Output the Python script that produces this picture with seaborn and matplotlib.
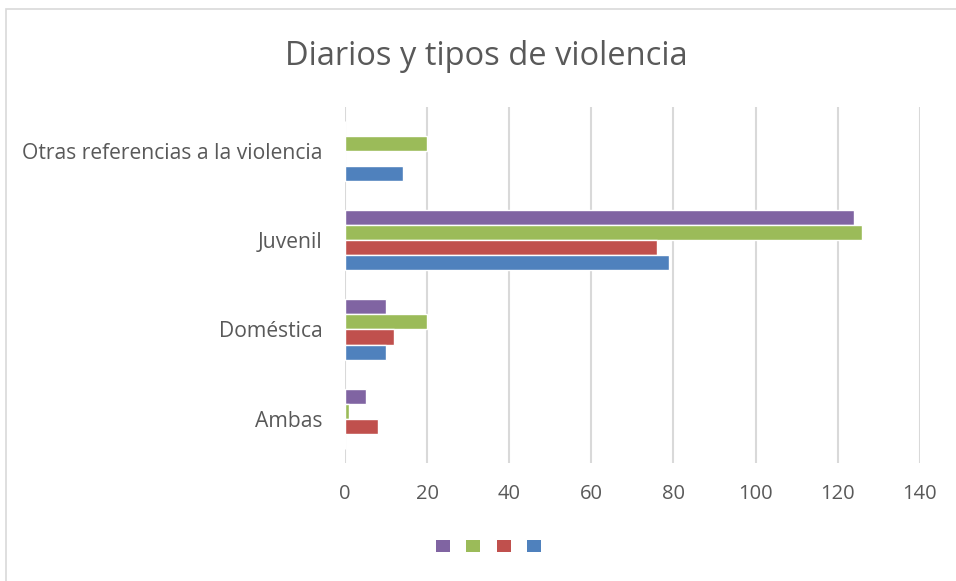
import matplotlib
matplotlib.use("Agg")
import matplotlib.pyplot as plt
import seaborn as sns
import pandas as pd
from matplotlib.patches import Patch, Rectangle

categorias = ["Otras referencias a la violencia", "Juvenil", "Doméstica", "Ambas"]
serie_morada = [0, 124, 10, 5]
serie_verde = [20, 126, 20, 1]
serie_roja = [0, 76, 12, 8]
serie_azul = [14, 79, 10, 0]

series = ["S4", "S3", "S2", "S1"]
colores = ["#8064A2", "#9BBB59", "#C0504D", "#4F81BD"]

df = pd.DataFrame({
    "categoria": categorias * 4,
    "serie": [s for s in series for _ in categorias],
    "valor": serie_morada + serie_verde + serie_roja + serie_azul,
})

sns.set_style("white")
plt.rcParams["font.family"] = ["Open Sans", "DejaVu Sans"]

fig = plt.figure(figsize=(9.56, 5.81), dpi=100)
ax = fig.add_axes([0.361, 0.203, 0.601, 0.613])

sns.barplot(data=df, y="categoria", x="valor", hue="serie", order=categorias,
            hue_order=series, palette=colores, orient="h", width=0.674,
            saturation=1, ax=ax, legend=False)

ax.set_xlim(0, 140)
ax.set_xticks(range(0, 141, 20))
ax.xaxis.grid(True, color="#d9d9d9", linewidth=1.5)
ax.set_axisbelow(True)
for s in ax.spines.values():
    s.set_visible(False)
ax.set_xlabel("")
ax.set_ylabel("")
ax.tick_params(axis="both", length=0, colors="#595959")
ax.tick_params(axis="x", pad=15, labelsize=14.5)
ax.tick_params(axis="y", pad=16, labelsize=15.2)

fig.text(0.509, 0.903, "Diarios y tipos de violencia", ha="center", va="center",
         fontsize=23.5, color="#595959")

handles = [Patch(facecolor=c, edgecolor="none") for c in colores]
fig.legend(handles, ["", "", "", ""], loc="center", bbox_to_anchor=(0.511, 0.058),
           ncol=4, frameon=False, handlelength=1.0, handleheight=1.0,
           handletextpad=0.0, columnspacing=1.2)

fig.patches.append(Rectangle((6 / 956, -0.1), 1.2, 1.1 - 8.5 / 581, transform=fig.transFigure,
                             fill=False, edgecolor="#d9d9d9", linewidth=1.2))

fig.savefig("out.png", dpi=100)
